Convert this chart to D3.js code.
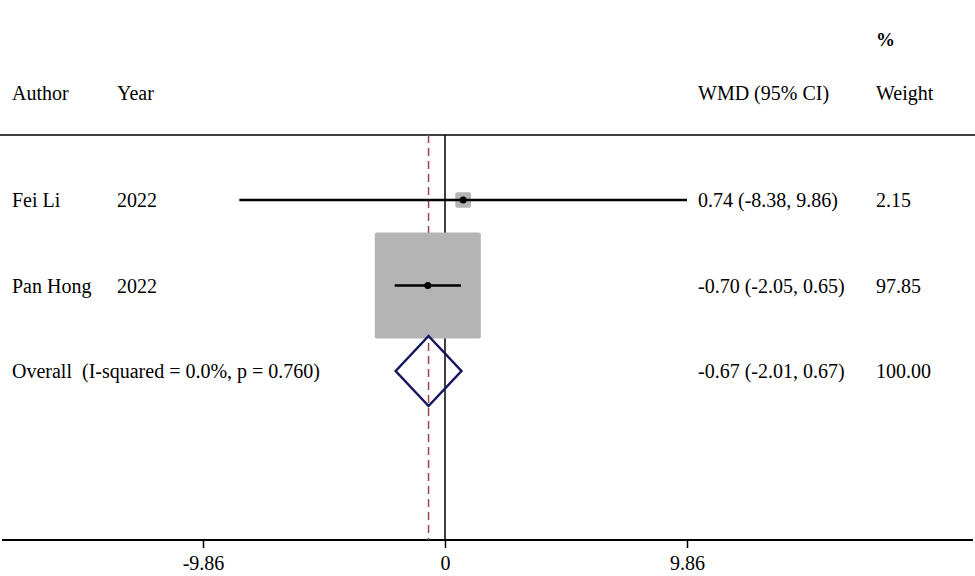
<!DOCTYPE html>
<html><head><meta charset="utf-8">
<script src="https://cdn.jsdelivr.net/npm/d3@7"></script>
<style>body{margin:0;background:#fff}svg{display:block}text{font-family:"Liberation Serif","Times New Roman",serif;fill:#000}</style>
</head><body><svg id="c" width="975" height="576"></svg>
<script>
const authors = ["Fei Li", "Pan Hong"];
const years = ["2022", "2022"];
const wmd = [0.74, -0.70];
const ciLow = [-8.38, -2.05];
const ciHigh = [9.86, 0.65];
const weights = [2.15, 97.85];
const ciLabels = ["0.74 (-8.38, 9.86)", "-0.70 (-2.05, 0.65)"];
const weightLabels = ["2.15", "97.85"];
const overallLabel = "Overall  (I-squared = 0.0%, p = 0.760)";
const overall = {est: -0.67, lo: -2.01, hi: 0.67, ciLabel: "-0.67 (-2.01, 0.67)", weightLabel: "100.00"};
const tickValues = [-9.86, 0, 9.86];
const tickLabels = ["-9.86", "0", "9.86"];

const svg = d3.select("#c");
const x = d3.scaleLinear().domain([0, 9.86]).range([445, 687]);
const rowY = d3.scalePoint().domain(["r0","r1","overall"]).range([200, 371]);
const boxSize = d3.scaleSqrt().domain([0, 100]).range([0, 107.2]);
const fs = 20;

// top rule and axis
svg.append("line").attr("x1",0).attr("x2",975).attr("y1",135).attr("y2",135).attr("stroke","#000").attr("stroke-width",1.5);
const axis = d3.axisBottom(x).tickValues(tickValues).tickFormat((d,i)=>tickLabels[i]).tickSize(8).tickSizeOuter(0);
const ag = svg.append("g").attr("transform","translate(0,540)").call(axis);
ag.select(".domain").remove();
ag.append("line").attr("x1",2).attr("x2",973).attr("y1",0).attr("y2",0).attr("stroke","#000").attr("stroke-width",2);
ag.selectAll(".tick line").attr("stroke","#000").attr("stroke-width",1.5);
ag.selectAll(".tick text").attr("font-size",fs).attr("dy",null).attr("y",30).attr("fill","#000");

// null line and overall dashed line
svg.append("line").attr("x1",x(0)).attr("x2",x(0)).attr("y1",135).attr("y2",540).attr("stroke","#000").attr("stroke-width",1.5);
svg.append("line").attr("x1",x(overall.est)).attr("x2",x(overall.est)).attr("y1",135).attr("y2",540)
  .attr("stroke","#a0424f").attr("stroke-width",1.5).attr("stroke-dasharray","8,5");

// headers
const hdr = svg.append("g").attr("font-size",fs);
hdr.append("text").attr("x",876).attr("y",46).attr("font-weight","bold").attr("font-size",fs-1).text("%");
hdr.append("text").attr("x",12).attr("y",100).text("Author");
hdr.append("text").attr("x",117).attr("y",100).text("Year");
hdr.append("text").attr("x",698).attr("y",100).text("WMD (95% CI)");
hdr.append("text").attr("x",876).attr("y",100).text("Weight");

// studies
authors.forEach((a,i)=>{
  const y = rowY("r"+i);
  const s = boxSize(weights[i]);
  svg.append("rect").attr("x",x(wmd[i])-s/2).attr("y",y-s/2).attr("width",s).attr("height",s)
    .attr("rx",2).attr("fill","#b4b4b4");
  svg.append("line").attr("x1",x(ciLow[i])).attr("x2",x(ciHigh[i])).attr("y1",y).attr("y2",y).attr("stroke","#000").attr("stroke-width",2.5);
  svg.append("circle").attr("cx",x(wmd[i])).attr("cy",y).attr("r",3.5).attr("fill","#000");
  const g = svg.append("g").attr("font-size",fs);
  g.append("text").attr("x",12).attr("y",y+7).text(a);
  g.append("text").attr("x",117).attr("y",y+7).text(years[i]);
  g.append("text").attr("x",698).attr("y",y+7).text(ciLabels[i]);
  g.append("text").attr("x",876).attr("y",y+7).text(weightLabels[i]);
});

// overall diamond
const oy = rowY("overall");
const dh = 35;
svg.append("path").attr("d", d3.line()([[x(overall.lo),oy],[x(overall.est),oy-dh],[x(overall.hi),oy],[x(overall.est),oy+dh]]) + "Z")
  .attr("fill","none").attr("stroke","#16165e").attr("stroke-width",2.5).attr("stroke-linejoin","miter");
const og = svg.append("g").attr("font-size",fs);
og.append("text").attr("x",12).attr("y",oy+7).attr("xml:space","preserve").style("white-space","pre").text(overallLabel);
og.append("text").attr("x",698).attr("y",oy+7).text(overall.ciLabel);
og.append("text").attr("x",876).attr("y",oy+7).text(overall.weightLabel);
</script></body></html>
